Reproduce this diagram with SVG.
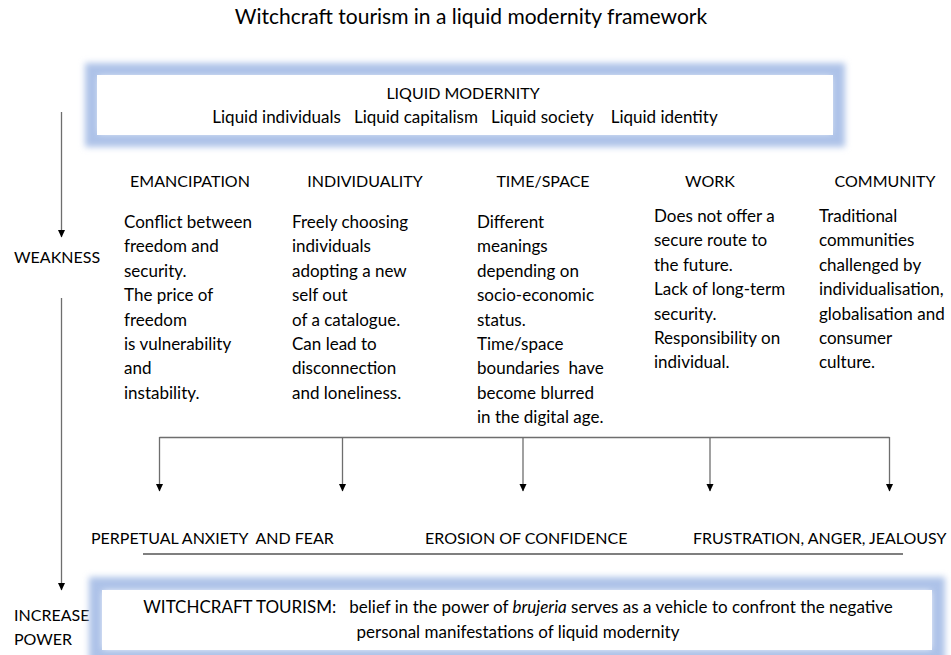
<svg xmlns="http://www.w3.org/2000/svg" width="951" height="655" viewBox="0 0 951 655">
<style>
text{font-family:Lato,"Open Sans","Liberation Sans",sans-serif;fill:#000;}
.t{font-size:21px;}
.b{font-size:17px;}
.h{font-size:16px;}
.w{font-size:17px;}
.glow{fill:none;stroke:#adc2e8;stroke-width:14;filter:url(#blur);}
.inner{fill:#fff;stroke:none;}
.ln{stroke:#6e6e6e;stroke-width:1.3;fill:none;}
.ul{stroke:#000;stroke-width:1.2;}
</style>
<defs>
<filter id="blur" x="-10%" y="-50%" width="120%" height="200%"><feGaussianBlur stdDeviation="3"/></filter>
<marker id="ah" markerWidth="8" markerHeight="8" refX="7" refY="4" orient="auto" markerUnits="userSpaceOnUse"><path d="M0,0.5 L7.5,4 L0,7.5 Z" fill="#000"/></marker>
</defs>
<rect width="951" height="655" fill="#fff"/>
<text class="t" x="471" y="24" text-anchor="middle">Witchcraft tourism in a liquid modernity framework</text>

<g id="liquid-modernity">
<rect class="glow" x="92" y="70" width="746" height="70"/>
<rect class="inner" x="97" y="75" width="736" height="60"/>
<text class="h" x="463" y="99" text-anchor="middle">LIQUID MODERNITY</text>
<text class="b" x="465" y="123" text-anchor="middle" xml:space="preserve">Liquid individuals   Liquid capitalism   Liquid society    Liquid identity</text>
</g>

<g id="weakness"><text class="h" x="14" y="263">WEAKNESS</text></g>
<g id="increase-power"><text class="h" x="14" y="621">INCREASE</text><text class="h" x="14" y="645">POWER</text></g>

<g id="emancipation">
<text class="h" x="190" y="187" text-anchor="middle">EMANCIPATION</text>
<text class="b" x="124" y="228">Conflict between</text>
<text class="b" x="124" y="252.4">freedom and</text>
<text class="b" x="124" y="276.8">security.</text>
<text class="b" x="124" y="301.2">The price of</text>
<text class="b" x="124" y="325.6">freedom</text>
<text class="b" x="124" y="350">is vulnerability</text>
<text class="b" x="124" y="374.4">and</text>
<text class="b" x="124" y="398.8">instability.</text>
</g>
<g id="individuality">
<text class="h" x="365" y="187" text-anchor="middle">INDIVIDUALITY</text>
<text class="b" x="292" y="228">Freely choosing</text>
<text class="b" x="292" y="252.4">individuals</text>
<text class="b" x="292" y="276.8">adopting a new</text>
<text class="b" x="292" y="301.2">self out</text>
<text class="b" x="292" y="325.6">of a catalogue.</text>
<text class="b" x="292" y="350">Can lead to</text>
<text class="b" x="292" y="374.4">disconnection</text>
<text class="b" x="292" y="398.8">and loneliness.</text>
</g>
<g id="time-space">
<text class="h" x="543" y="187" text-anchor="middle">TIME/SPACE</text>
<text class="b" x="477" y="228">Different</text>
<text class="b" x="477" y="252.4">meanings</text>
<text class="b" x="477" y="276.8">depending on</text>
<text class="b" x="477" y="301.2">socio-economic</text>
<text class="b" x="477" y="325.6">status.</text>
<text class="b" x="477" y="350">Time/space</text>
<text class="b" x="477" y="374.4" xml:space="preserve">boundaries  have</text>
<text class="b" x="477" y="398.8">become blurred</text>
<text class="b" x="477" y="423.2">in the digital age.</text>
</g>
<g id="work">
<text class="h" x="710" y="187" text-anchor="middle">WORK</text>
<text class="b" x="654" y="222">Does not offer a</text>
<text class="b" x="654" y="246.4">secure route to</text>
<text class="b" x="654" y="270.8">the future.</text>
<text class="b" x="654" y="295.2">Lack of long-term</text>
<text class="b" x="654" y="319.6">security.</text>
<text class="b" x="654" y="344">Responsibility on</text>
<text class="b" x="654" y="368.4">individual.</text>
</g>
<g id="community">
<text class="h" x="885" y="187" text-anchor="middle">COMMUNITY</text>
<text class="b" x="819" y="222">Traditional</text>
<text class="b" x="819" y="246.4">communities</text>
<text class="b" x="819" y="270.8">challenged by</text>
<text class="b" x="819" y="295.2">individualisation,</text>
<text class="b" x="819" y="319.6">globalisation and</text>
<text class="b" x="819" y="344">consumer</text>
<text class="b" x="819" y="368.4">culture.</text>
</g>

<g id="outcomes">
<text class="h" x="91" y="544" xml:space="preserve">PERPETUAL ANXIETY  AND FEAR</text>
<text class="h" x="425" y="544">EROSION OF CONFIDENCE</text>
<text class="h" x="693" y="544">FRUSTRATION, ANGER, JEALOUSY</text>
<line class="ul" x1="143" y1="554" x2="903" y2="554"/>
</g>

<g id="witchcraft-tourism">
<rect class="glow" x="96" y="584" width="842" height="72"/>
<rect class="inner" x="102" y="590" width="830" height="60"/>
<text class="w" x="518" y="613" text-anchor="middle" xml:space="preserve">WITCHCRAFT TOURISM:   belief in the power of <tspan font-style="italic">brujeria</tspan> serves as a vehicle to confront the negative</text>
<text class="w" x="518" y="638" text-anchor="middle">personal manifestations of liquid modernity</text>
</g>

<g id="connectors">
<line class="ln" x1="61.5" y1="112" x2="61.5" y2="237" marker-end="url(#ah)"/>
<line class="ln" x1="61.5" y1="298" x2="61.5" y2="590" marker-end="url(#ah)"/>
<line class="ln" x1="159.5" y1="437.5" x2="889.5" y2="437.5"/>
<line class="ln" x1="159.5" y1="437" x2="159.5" y2="491" marker-end="url(#ah)"/>
<line class="ln" x1="342.5" y1="437" x2="342.5" y2="491" marker-end="url(#ah)"/>
<line class="ln" x1="523" y1="437" x2="523" y2="491" marker-end="url(#ah)"/>
<line class="ln" x1="710" y1="437" x2="710" y2="491" marker-end="url(#ah)"/>
<line class="ln" x1="889.5" y1="437" x2="889.5" y2="491" marker-end="url(#ah)"/>
</g>
</svg>
